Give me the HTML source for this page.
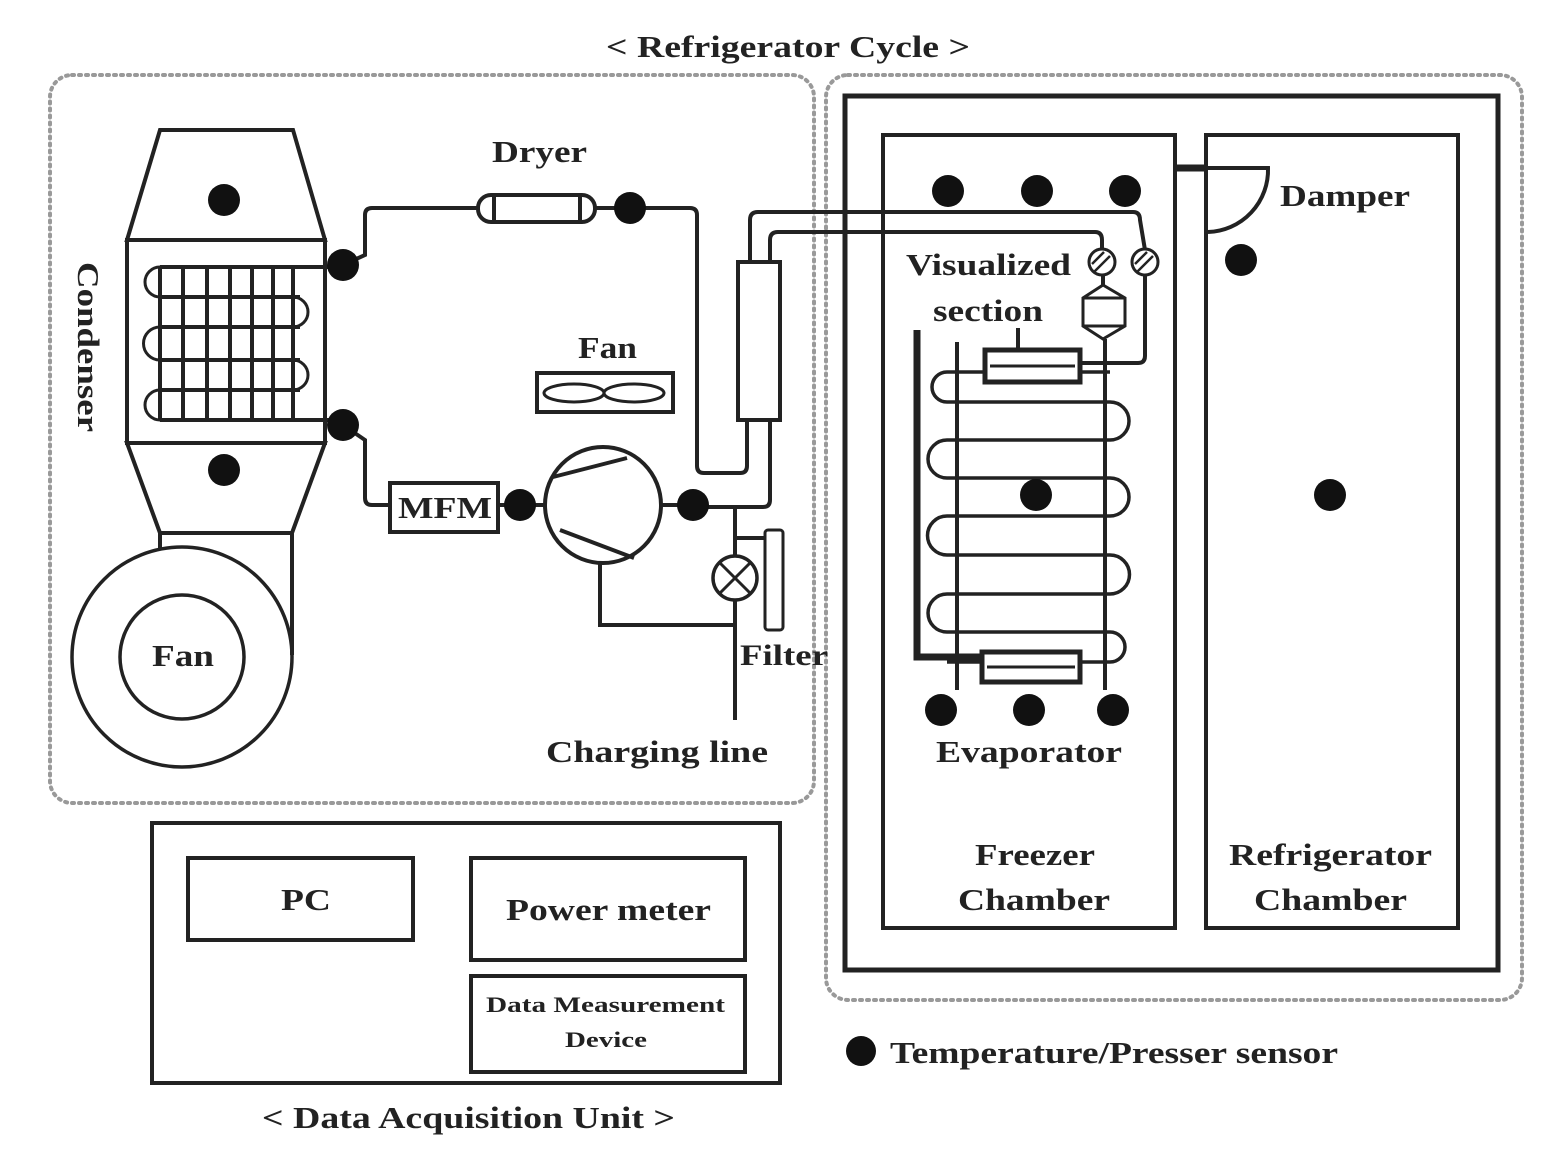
<!DOCTYPE html>
<html><head><meta charset="utf-8"><style>
html,body{margin:0;padding:0;background:#fff;}
svg{display:block;}
text{font-family:"Liberation Serif",serif;font-weight:bold;fill:#222;}
</style></head><body>
<svg width="1564" height="1176" viewBox="0 0 1564 1176" xmlns="http://www.w3.org/2000/svg">
<rect width="1564" height="1176" fill="#fff"/>
<g fill="none" stroke="#999" stroke-width="4" stroke-dasharray="2 5" stroke-linecap="round">
<rect x="50" y="75" width="764" height="728" rx="22"/>
<rect x="826" y="75" width="696" height="925" rx="22"/>
</g>
<text x="606" y="57" font-size="31" textLength="364" lengthAdjust="spacingAndGlyphs">&lt; Refrigerator Cycle &gt;</text>

<g fill="none" stroke="#222" stroke-width="4">
<polygon points="160,130 293,130 325,240 127,240"/>
<rect x="127" y="240" width="198" height="203"/>
<polygon points="127,443 325,443 292,533 160,533"/>
<line x1="160" y1="533" x2="160" y2="548"/>
<line x1="292" y1="533" x2="292" y2="655"/>
<circle cx="182" cy="657" r="110" stroke-width="3.5"/>
<circle cx="182" cy="657" r="62" stroke-width="3.5"/>
<g stroke-width="4">
<line x1="160" y1="267" x2="340" y2="267"/>
<line x1="160" y1="297" x2="300" y2="297"/>
<line x1="160" y1="327" x2="300" y2="327"/>
<line x1="160" y1="360" x2="300" y2="360"/>
<line x1="160" y1="390" x2="300" y2="390"/>
<line x1="160" y1="420" x2="340" y2="420"/>
<line x1="160" y1="267" x2="160" y2="420"/>
<line x1="183" y1="267" x2="183" y2="420"/>
<line x1="207" y1="267" x2="207" y2="420"/>
<line x1="230" y1="267" x2="230" y2="420"/>
<line x1="252" y1="267" x2="252" y2="420"/>
<line x1="273" y1="267" x2="273" y2="420"/>
<line x1="293" y1="267" x2="293" y2="420"/>
<path d="M160,267 A15,15 0 0 0 160,297 M160,327 A16,16 0 0 0 160,360 M160,390 A15,15 0 0 0 160,420" stroke-width="3"/>
<path d="M293,297 A15,15 0 0 1 293,327 M293,360 A15,15 0 0 1 293,390" stroke-width="3"/>
</g>
<path d="M343,265 L365,255 L365,215 Q365,208 372,208 L480,208"/>
<rect x="478" y="195" width="117" height="27" rx="13"/>
<line x1="494" y1="196" x2="494" y2="221"/>
<line x1="580" y1="196" x2="580" y2="221"/>
<path d="M595,208 L690,208 Q697,208 697,215 L697,466 Q697,473 704,473 L740,473 Q747,473 747,466 L747,420"/>
<rect x="738" y="262" width="42" height="158"/>
<path d="M770,420 L770,500 Q770,507 763,507 L693,507"/>
<path d="M750,262 L750,220 Q750,212 758,212 L1133,212 Q1140,212 1140,220 L1145,250"/>
<path d="M770,262 L770,240 Q770,232 778,232 L1095,232 Q1102,232 1102,240 L1102,250"/>
<path d="M343,425 L365,440 L365,498 Q365,505 372,505 L390,505"/>
<rect x="390" y="483" width="108" height="49"/>
<line x1="498" y1="505" x2="545" y2="505"/>
<circle cx="603" cy="505" r="58"/>
<line x1="553" y1="477" x2="627" y2="458"/>
<line x1="560" y1="530" x2="634" y2="558"/>
<line x1="661" y1="505" x2="693" y2="505"/>
<path d="M600,563 L600,625 L735,625"/>
<line x1="735" y1="507" x2="735" y2="720"/>
<path d="M735,538 L765,538"/>
<rect x="765" y="530" width="18" height="100" rx="3" stroke-width="3"/>
<circle cx="735" cy="578" r="22" fill="#fff" stroke-width="3.5"/>
<line x1="720" y1="563" x2="750" y2="593" stroke-width="3"/>
<line x1="750" y1="563" x2="720" y2="593" stroke-width="3"/>
<rect x="537" y="373" width="136" height="39"/>
<ellipse cx="574" cy="393" rx="30" ry="9" stroke-width="3"/>
<ellipse cx="634" cy="393" rx="30" ry="9" stroke-width="3"/>

<rect x="845" y="96" width="653" height="874" stroke-width="5"/>
<rect x="883" y="135" width="292" height="793"/>
<rect x="1206" y="135" width="252" height="793"/>
<line x1="1175" y1="168" x2="1206" y2="168" stroke-width="7"/>
<path d="M1208,168 L1268,168 A62,62 0 0 1 1208,232"/>
<circle cx="1102" cy="262" r="13" fill="#fff" stroke-width="3"/>
<circle cx="1145" cy="262" r="13" fill="#fff" stroke-width="3"/>
<line x1="1094" y1="272" x2="1110" y2="256" stroke-width="2.5"/>
<line x1="1092" y1="264" x2="1104" y2="252" stroke-width="2.5"/>
<line x1="1137" y1="272" x2="1153" y2="256" stroke-width="2.5"/>
<line x1="1135" y1="264" x2="1147" y2="252" stroke-width="2.5"/>
<path d="M1145,275 L1145,356 Q1145,363 1138,363 L1080,363"/>
<line x1="1103" y1="275" x2="1103" y2="285"/>
<polygon points="1103,285 1125,298 1125,326 1103,339 1083,326 1083,298" stroke-width="3"/>
<line x1="1083" y1="298" x2="1125" y2="298" stroke-width="3"/>
<line x1="1083" y1="326" x2="1125" y2="326" stroke-width="3"/>
<line x1="1105" y1="339" x2="1105" y2="690"/>
<line x1="957" y1="342" x2="957" y2="690"/>
<g stroke-width="3.5">
<line x1="947" y1="372" x2="1110" y2="372"/>
<line x1="947" y1="402" x2="1110" y2="402"/>
<line x1="947" y1="440" x2="1110" y2="440"/>
<line x1="947" y1="478" x2="1110" y2="478"/>
<line x1="947" y1="516" x2="1110" y2="516"/>
<line x1="947" y1="555" x2="1110" y2="555"/>
<line x1="947" y1="594" x2="1110" y2="594"/>
<line x1="947" y1="632" x2="1110" y2="632"/>
<line x1="947" y1="662" x2="1110" y2="662"/>
<path d="M947,372 A15,15 0 0 0 947,402 M947,440 A19,19 0 0 0 947,478 M947,516 A19.5,19.5 0 0 0 947,555 M947,594 A19,19 0 0 0 947,632"/>
<path d="M1110,402 A19,19 0 0 1 1110,440 M1110,478 A19,19 0 0 1 1110,516 M1110,555 A19.5,19.5 0 0 1 1110,594 M1110,632 A15,15 0 0 1 1110,662"/>
</g>
<rect x="985" y="350" width="95" height="32" fill="#fff" stroke-width="5"/>
<line x1="990" y1="366" x2="1075" y2="366" stroke-width="3"/>
<line x1="1018" y1="328" x2="1018" y2="350"/>
<rect x="982" y="652" width="98" height="30" fill="#fff" stroke-width="5"/>
<line x1="987" y1="667" x2="1075" y2="667" stroke-width="3"/>
<path d="M917,330 L917,657 L982,657" stroke-width="7"/>

<rect x="152" y="823" width="628" height="260"/>
<rect x="188" y="858" width="225" height="82"/>
<rect x="471" y="858" width="274" height="102"/>
<rect x="471" y="976" width="274" height="96"/>
</g>

<g fill="#111">
<circle cx="224" cy="200" r="16"/><circle cx="224" cy="470" r="16"/>
<circle cx="343" cy="265" r="16"/><circle cx="343" cy="425" r="16"/>
<circle cx="630" cy="208" r="16"/><circle cx="520" cy="505" r="16"/>
<circle cx="693" cy="505" r="16"/>
<circle cx="948" cy="191" r="16"/><circle cx="1037" cy="191" r="16"/><circle cx="1125" cy="191" r="16"/>
<circle cx="941" cy="710" r="16"/><circle cx="1029" cy="710" r="16"/><circle cx="1113" cy="710" r="16"/>
<circle cx="1036" cy="495" r="16"/>
<circle cx="1241" cy="260" r="16"/><circle cx="1330" cy="495" r="16"/>
<circle cx="861" cy="1051" r="15"/>
</g>

<g lengthAdjust="spacingAndGlyphs">
<text x="492" y="162" font-size="31" textLength="95" lengthAdjust="spacingAndGlyphs">Dryer</text>
<text x="578" y="358" font-size="31" textLength="59" lengthAdjust="spacingAndGlyphs">Fan</text>
<text x="152" y="666" font-size="31" textLength="62" lengthAdjust="spacingAndGlyphs">Fan</text>
<text x="398" y="518" font-size="31" textLength="94" lengthAdjust="spacingAndGlyphs">MFM</text>
<text transform="translate(78,262) rotate(90)" font-size="31" textLength="170" lengthAdjust="spacingAndGlyphs">Condenser</text>
<text x="740" y="665" font-size="30" textLength="88" lengthAdjust="spacingAndGlyphs">Filter</text>
<text x="546" y="762" font-size="31" textLength="222" lengthAdjust="spacingAndGlyphs">Charging line</text>
<text x="906" y="275" font-size="31" textLength="165" lengthAdjust="spacingAndGlyphs">Visualized</text>
<text x="933" y="321" font-size="31" textLength="110" lengthAdjust="spacingAndGlyphs">section</text>
<text x="1280" y="206" font-size="31" textLength="130" lengthAdjust="spacingAndGlyphs">Damper</text>
<text x="936" y="762" font-size="31" textLength="186" lengthAdjust="spacingAndGlyphs">Evaporator</text>
<text x="975" y="865" font-size="31" textLength="120" lengthAdjust="spacingAndGlyphs">Freezer</text>
<text x="958" y="910" font-size="31" textLength="152" lengthAdjust="spacingAndGlyphs">Chamber</text>
<text x="1229" y="865" font-size="31" textLength="203" lengthAdjust="spacingAndGlyphs">Refrigerator</text>
<text x="1254" y="910" font-size="31" textLength="153" lengthAdjust="spacingAndGlyphs">Chamber</text>
<text x="281" y="910" font-size="31" textLength="50" lengthAdjust="spacingAndGlyphs">PC</text>
<text x="506" y="920" font-size="31" textLength="205" lengthAdjust="spacingAndGlyphs">Power meter</text>
<text x="486" y="1012" font-size="22" textLength="239" lengthAdjust="spacingAndGlyphs">Data Measurement</text>
<text x="565" y="1047" font-size="22" textLength="82" lengthAdjust="spacingAndGlyphs">Device</text>
<text x="262" y="1128" font-size="31" textLength="413" lengthAdjust="spacingAndGlyphs">&lt; Data Acquisition Unit &gt;</text>
<text x="890" y="1063" font-size="31" textLength="448" lengthAdjust="spacingAndGlyphs">Temperature/Presser sensor</text>
</g>
</svg>
</body></html>
